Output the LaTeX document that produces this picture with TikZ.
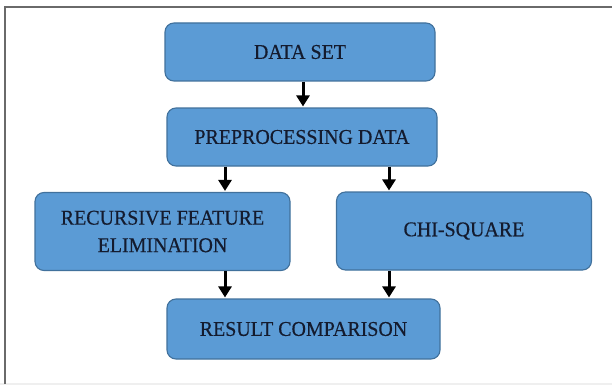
\documentclass[tikz,border=0pt]{standalone}
\usepackage{fontspec}
\setmainfont{Liberation Serif}
\newfontfamily\boxfont[FakeStretch=0.95,FakeBold=0.4]{Liberation Serif}
\usetikzlibrary{arrows.meta}
\definecolor{boxfill}{HTML}{5B9BD5}
\definecolor{boxline}{HTML}{41719C}
\definecolor{boxtext}{HTML}{141B2E}
\definecolor{framegray}{HTML}{6A6A6A}
\definecolor{bandgray}{HTML}{EFEFEF}
\tikzset{
  stepbox/.style={draw=boxline, line width=1.1pt, fill=boxfill, rounded corners=9pt,
    text=boxtext, align=center, inner sep=0pt,
    font=\boxfont\fontsize{21}{27.5}\selectfont},
  flow/.style={draw=black, line width=3pt,
    -{Triangle[width=13pt,length=11pt]}, shorten >=1pt}
}
\begin{document}
\begin{tikzpicture}[x=1pt,y=-1pt]
  \useasboundingbox (0,0) rectangle (612,385);
  % page band and frame
  \fill[white] (0,0) rectangle (612,385);
  \fill[bandgray] (0,383) rectangle (612,385);
  \draw[framegray, line width=1.4pt] (5,384) -- (5,7) -- (612,7);

  % process boxes
  \node[stepbox, minimum width=270pt, minimum height=58pt] (data) at (300,52) {DATA SET};
  \node[stepbox, minimum width=270pt, minimum height=58pt] (pre) at (302,137) {PREPROCESSING DATA};
  \node[stepbox, minimum width=255pt, minimum height=78pt] (rfe) at (162.5,231.5)
    {\raisebox{-4pt}{\parbox{250pt}{\centering RECURSIVE FEATURE\\ELIMINATION}}};
  \node[stepbox, minimum width=255pt, minimum height=78pt] (chi) at (464,231)
    {\raisebox{-2pt}{CHI-SQUARE}};
  \node[stepbox, minimum width=273pt, minimum height=60pt] (res) at (303.5,329) {RESULT COMPARISON};

  % arrow columns
  \coordinate (colA) at (303,0);
  \coordinate (colL) at (225,0);
  \coordinate (colR) at (389,0);

  % connectors
  \draw[flow] (data.south -| colA) -- (pre.north -| colA);
  \draw[flow] (pre.south -| colL) -- (rfe.north -| colL);
  \draw[flow] (pre.south -| colR) -- (chi.north -| colR);
  \draw[flow] (rfe.south -| colL) -- (res.north -| colL);
  \draw[flow] (chi.south -| colR) -- (res.north -| colR);
\end{tikzpicture}
\end{document}
